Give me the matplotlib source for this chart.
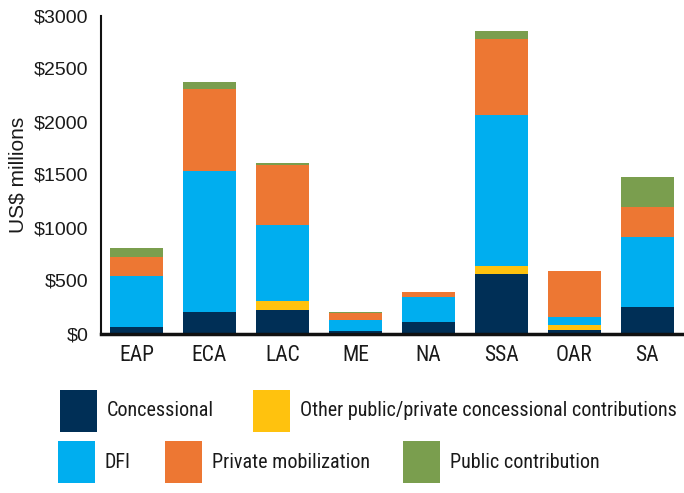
import matplotlib
matplotlib.use("Agg")
import matplotlib.pyplot as plt
from matplotlib.patches import Rectangle
from matplotlib import font_manager
import numpy as np

regions = ["EAP", "ECA", "LAC", "ME", "NA", "SSA", "OAR", "SA"]
concessional = [57, 201, 226, 20, 106, 561, 31, 248]
other_conc = [0, 0, 85, 8, 0, 76, 47, 0]
dfi = [481, 1330, 717, 102, 243, 1421, 82, 667]
private_mob = [182, 780, 566, 66, 47, 720, 434, 283]
public_contrib = [91, 57, 10, 9, 0, 76, 0, 283]

series_names = ["Concessional", "Other public/private concessional contributions",
                "DFI", "Private mobilization", "Public contribution"]
series_vals = [concessional, other_conc, dfi, private_mob, public_contrib]
colors = ["#002F56", "#FFC20E", "#00AEEF", "#ED7733", "#7A9E4E"]
yticks = [0, 500, 1000, 1500, 2000, 2500, 3000]

names = {f.name for f in font_manager.fontManager.ttflist}
cond = "Liberation Sans"
for cand in ["Liberation Sans Narrow", "Roboto Condensed", "Open Sans Condensed"]:
    if cand in names:
        cond = cand
        break
cond_size = 14.5 if cond != "Liberation Sans" else 13.2
plt.rcParams['font.family'] = ['Liberation Sans', 'DejaVu Sans']

fig = plt.figure(figsize=(6.84, 4.93), dpi=100)
ax = fig.add_axes([101/684, 1-333.5/493, 582/684, 318/493])

x = np.arange(len(regions))
bottom = np.zeros(len(regions))
for vals, c, n in zip(series_vals, colors, series_names):
    v = np.array(vals, dtype=float)
    ax.bar(x, v, bottom=bottom, width=0.727, color=c, label=n, linewidth=0)
    bottom += v

ax.set_xlim(-0.487, 7.49)
ax.set_ylim(0, 3000)
ax.set_yticks(yticks)
ax.set_yticklabels([f"${t}" for t in yticks], fontsize=14, color="#1a1a1a")
ax.set_xticks(x)
ax.set_xticklabels(regions, fontsize=15.5, family=[cond, 'DejaVu Sans'], color="#1a1a1a")
ax.tick_params(axis='both', length=0, pad=8)
ax.tick_params(axis='y', pad=9)
for s in ["top", "right"]:
    ax.spines[s].set_visible(False)
ax.spines["left"].set_linewidth(1.5)
ax.spines["bottom"].set_linewidth(2.5)
ax.spines["bottom"].set_color("#111111")
ax.spines["left"].set_color("#111111")
ax.set_ylabel("US$ millions", fontsize=15, color="#1a1a1a", labelpad=5)

# legend drawn manually
def legbox(x0, y0, c, label):
    fig.patches.append(Rectangle((x0/684, 1-(y0+42)/493), 37/684, 42/493,
                                 transform=fig.transFigure, color=c, lw=0))
    fig.text((x0+47)/684, 1-(y0+21)/493, label, fontsize=cond_size,
             family=[cond, 'DejaVu Sans'], color="#1a1a1a", va="center", ha="left")

legbox(60, 390, colors[0], series_names[0])
legbox(253, 390, colors[1], series_names[1])
legbox(58, 441, colors[2], series_names[2])
legbox(165, 441, colors[3], series_names[3])
legbox(403, 441, colors[4], series_names[4])

fig.savefig("out.png", dpi=100)
